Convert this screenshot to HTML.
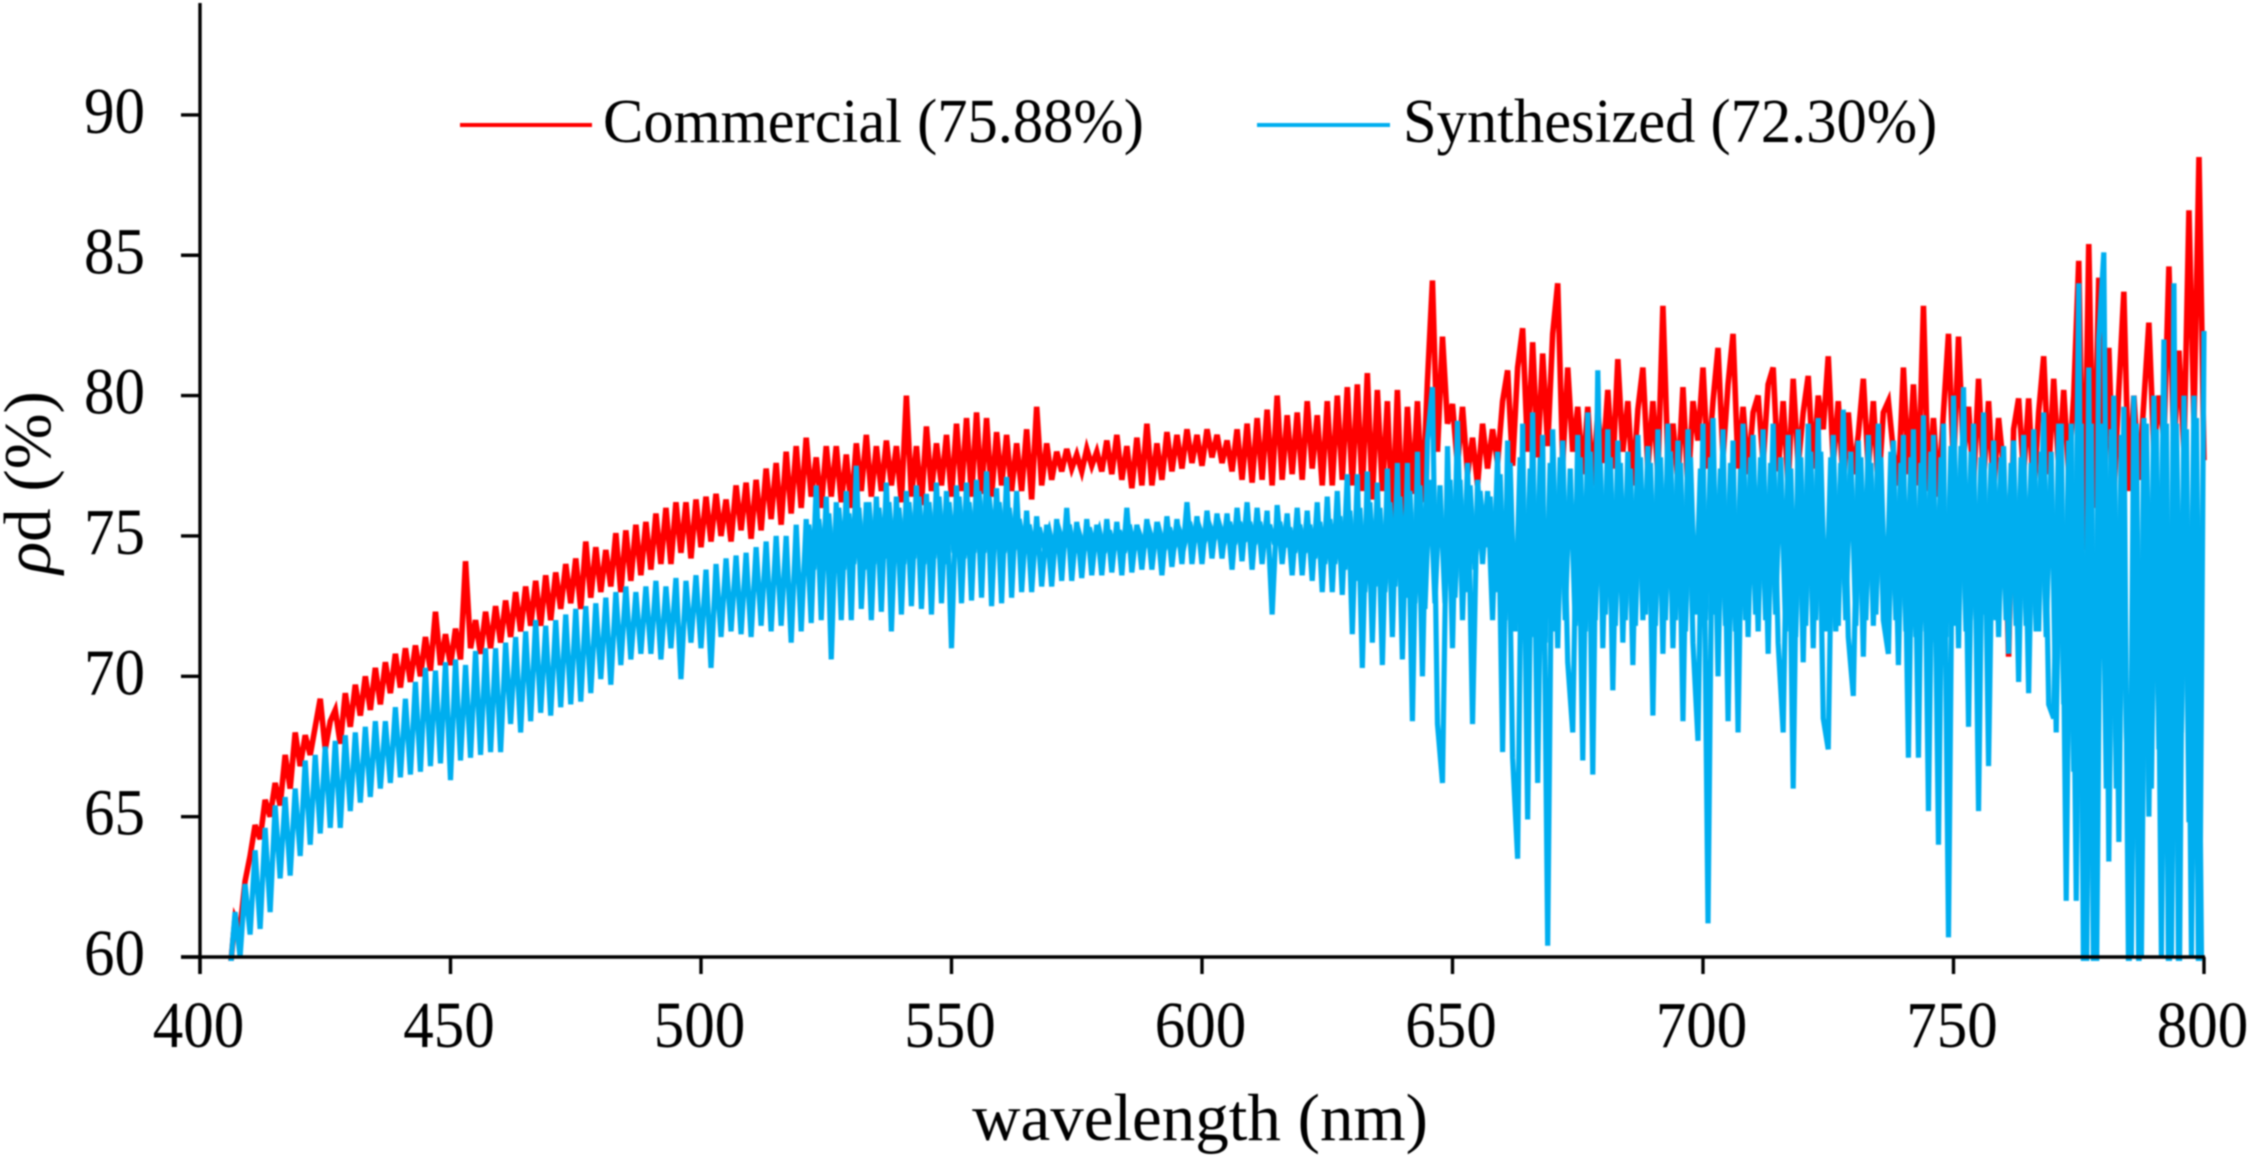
<!DOCTYPE html>
<html lang="en">
<head>
<meta charset="utf-8">
<title>Diffuse reflectance spectrum</title>
<style>
html,body{margin:0;padding:0;background:#fff;width:2250px;height:1157px;overflow:hidden}
svg{display:block;filter:blur(0.8px)}
text{font-family:"Liberation Serif",serif;fill:#000}
</style>
</head>
<body>
<svg id="chart" xmlns="http://www.w3.org/2000/svg" width="2250" height="1157" viewBox="0 0 2250 1157">
  <defs><clipPath id="plot-clip"><rect x="190" y="0" width="2060" height="961"/></clipPath></defs>
  <g id="series" clip-path="url(#plot-clip)"></g>
  <g id="axes"></g>
  <g>
    <line x1="460" y1="125" x2="592" y2="125" stroke="#ff0000" stroke-width="4"/>
    <text transform="translate(603,142) scale(1,1.03)" font-size="60.5">Commercial (75.88%)</text>
    <line x1="1257" y1="125" x2="1390" y2="125" stroke="#00aeef" stroke-width="4"/>
    <text transform="translate(1403,142) scale(1,1.03)" font-size="60.5">Synthesized (72.30%)</text>
  </g>
  <text x="1200" y="1140" font-size="67" text-anchor="middle">wavelength (nm)</text>
  <text transform="translate(50,574) rotate(-90)" font-size="67"><tspan font-style="italic">ρ</tspan>d (%)</text>
</svg>
<script>
const wavelengthStart = 406;
const wavelengthStep = 1;
const halfStepStart = 520.5;
const xTickLabels = [400,450,500,550,600,650,700,750,800];
const yTickLabels = [60,65,70,75,80,85,90];
const commercial = [
59.5,61.4,61,62.7,
63.6,64.7,64.2,65.6,65,66.2,65.4,67.2,66,68,
66.8,67.9,67.2,68.2,69.2,67.4,68.4,68.8,67.6,69.4,
68.2,69.7,68.6,70,68.8,70.3,69,70.5,69.4,70.8,
69.6,71,69.8,71.1,70,71.4,70.2,72.3,70.4,71.5,
70.4,71.7,70.6,74.1,71,72,70.8,72.3,71,72.5,
71.2,72.7,71.4,73,71.6,73.2,71.8,73.4,71.8,73.6,
72,73.7,72.4,74,72.6,74.2,72.4,74.8,72.8,74.6,
73,74.5,73.2,75.1,73,75.2,73.4,75.4,73.6,75.5,
73.8,75.8,74,76,74,76.2,74.4,76.2,74.2,76.3,
74.6,76.4,74.8,76.5,75,76.3,74.8,76.8,75.2,76.9,
74.9,77,75.2,77.4,75.6,77.6,75.4,78,75.8,78.2,
76,78.5,76.4,77.8,76,78.2,76.4,78.2,76.2,77.9,
76,78.3,76.6,78.6,76.4,78.2,76.6,78.4,76.8,78.2,
76.2,80,76.4,78.2,76.1,78.9,76.6,78.3,76.8,78.6,
76.4,79,76.6,79.2,76.4,79.4,76.5,79.2,76.4,78.7,
76.8,78.6,76.6,78.3,76.6,78.8,76.3,79.6,76.8,78.3,
77,78,77.3,78.1,77.4,77.9,77.3,78.1,77.5,78,
77.3,78.4,77.2,78.6,77,78.2,76.7,78.5,76.8,79,
76.8,78.3,77,78.7,77.3,78.6,77.4,78.8,77.6,78.6,
77.5,78.8,77.8,78.6,77.6,78.4,77.3,78.8,77,79,
76.9,79.2,77,79.5,76.8,80,77,79.3,77.2,79.4,
77,79.8,77.4,79.3,76.8,79.8,76.8,80,77,80.3,
76.8,80.4,76.6,80.8,76.3,80.2,76.6,79.8,75.5,80.2,
75.5,79.6,76.5,79.8,76.2,80.5,84.1,78,82.1,79,
79.7,77.5,79.6,77.2,78.5,76.8,79,77.4,78.8,77.6,
79.8,80.9,77.5,81,82.4,78,81.9,77.8,81.5,78.2,
82.2,84,77.6,81,78,79.6,77.2,79.6,76.8,79.4,
77.6,80.2,77.4,81.3,78,79.8,76.8,79.5,81,77.4,
79.8,77.2,83.2,77.6,79,76.9,80.3,76.6,79.8,78.4,
81,77.4,79.8,81.7,77.8,80.4,82.2,77.4,79.6,77.2,
79.4,80,77.6,80.4,81,77.3,79.8,76.8,80.6,77.5,
79.4,80.7,77.4,80,78.8,81.4,77.6,79.8,76.8,79.4,
77.2,78.6,80.6,77.4,79.8,76.6,79.4,79.8,78,76.8,
81,77.2,80.4,76.8,83.2,76.6,79.2,76.4,79.4,82.2,
77.4,82.1,77.8,79.6,76.8,80.6,77,79.8,76.6,79.2,
77.4,70.7,78.8,79.9,77.2,79.9,76.4,79.4,81.4,77.2,
80.6,77.4,80.2,77.2,80,84.8,74.5,85.4,76,84.2,
76,81.7,76.4,80.2,83.7,76.6,80,77,79.8,82.6,
78,80,78.4,84.6,78,81.6,78,86.6,79,88.5,
77.7];
const synthesized = [
59.4,61.6,60,62.6,
60.8,63.8,61,64.6,61.6,65.4,62.8,65.7,62.9,66,
63.6,67,64,67.2,64.4,67.5,64.6,67.7,64.6,67.9,
65.2,68,65.5,68.2,65.7,68.4,66,68.4,66.2,68.9,
66.4,69.2,66.5,69.8,66.6,70.3,66.8,70.2,66.9,70.5,
66.3,70.6,67,70.4,67.1,70.9,67.2,71,67.3,71,
67.3,71.2,68.3,71.4,68,71.6,68.4,72,68.7,71.8,
68.6,72,68.9,72.2,69,72.4,69.1,72.5,69.4,72.6,
69.9,72.8,69.7,73,70.4,73.2,70.6,73,70.8,73.2,
70.8,73.4,70.6,73.2,71,73.5,69.9,73.4,71.2,73.6,
71,73.8,70.3,74,71.4,74.2,71.6,74.3,71.5,74.4,
71.4,74.6,71.8,74.8,71.6,75,71.8,75,71.2,75.4,
71.6,75.6,71.9,76.8,72,76.4,70.6,76.2,72,76.6,
72,77.5,72.4,76.2,72,76.4,72.3,76.9,71.6,76.4,
72.2,76.6,72.5,76.8,72.4,76.5,72.2,76.9,72.6,76.6,
71,76.8,72.6,76.9,72.7,77,72.8,77.3,72.5,76.7,
72.6,77.1,72.8,76.6,73,75.9,73,75.7,73.2,75.4,
73.2,75.6,73.4,76,73.4,75.5,73.5,75.6,73.6,75.4,
73.6,75.6,73.7,75.5,73.6,76,73.7,75.4,73.8,75.6,
73.8,75.5,73.6,75.7,73.9,75.6,74,76.2,74,75.7,
74,75.9,74.2,75.8,74.2,75.8,73.8,76,74.1,76.2,
73.8,76,74,75.9,72.2,76.1,74,75.8,73.6,76,
73.6,75.9,73.4,76.2,73,76.4,73,76.6,72.9,77.2,
71.5,77.2,70.3,77.3,71.2,76.9,70.4,77.4,71.4,77.6,
70.6,77.6,68.4,78,70,78.4,80.3,68.3,66.2,78.2,
71,79.1,72,77.6,68.3,77,74,76.6,72,78,
67.3,78.4,67.1,63.5,79,64.9,79.4,66.2,78.6,60.4,
78.8,71,78.4,70.5,68,78.6,67,79.4,66.5,80.9,
71,78.8,69.5,78.4,71.2,78,70.4,78.6,72,78.2,
68.6,78.8,70.8,79,71,78.4,68.4,78.8,71.2,67.7,
79,61.2,79.2,70,78.8,68.4,78.4,68,79,71.4,
78.6,71.6,78.8,70.8,79,71.2,68,78.6,66,78.8,
70.5,79,71,79.2,68.5,67.4,78.6,71.8,79.5,71.4,
69.3,78.4,70.7,78.6,71.8,79,72,70.8,78.4,70.4,
78.6,67.1,78.8,67.1,79.3,65.2,78.6,64,79,60.7,
80,71,80.3,68.2,79,65.2,79.4,66.8,78.4,71.4,
78.2,70.8,78.4,69.8,78.6,69.4,78.8,71.6,79.4,69,
68.5,79,69,78.4,66.6,84,58,81,58,82,
85.1,63.4,80,64.1,79.6,58,80,59,79.2,65,
80,67.4,82,57,84,57,80,64.8,80,57,
82.3];
const synthesizedHalfStep = [
73.6,75.4,73.8,75.6,74,75.8,73.6,76,73.8,75.8,
74,76,73.8,76.2,74,76,74.2,76.2,74,76,
74,76.2,74.2,76.4,74,76.2,74.2,76.4,74,76.2,
74.4,76.4,74.2,76.2,74.4,76.6,74.4,76.4,74.6,76.2,
74.4,76,74.5,75.6,74.6,75.4,74.4,75.3,74.6,75.2,
74.4,75.2,74.6,75.4,74.4,75.1,74.5,75.3,74.6,75.2,
74.4,75.2,74.5,75.2,74.4,75.4,74.5,75.1,74.6,75.2,
74.6,75.2,74.5,75.3,74.6,75.2,74.7,75.5,74.8,75.3,
74.8,75.4,74.9,75.4,74.8,75.5,74.7,75.5,74.8,75.5,
74.7,75.5,74.6,75.4,74.7,75.5,74.6,75.3,74.4,75.4,
74.4,75.4,74.2,75.5,74,75.6,74,75.7,73.8,75.9,
73.4,76,73,76.2,73.2,76,73,76.2,73.2,76.4,
72.8,76.6,72.6,76.8,72.4,77,72.6,76.8,72.6,77,
72.8,77,73,76.8,73.8,76.6,74.6,76.4,73,77.2,
72,77.6,71.6,77.8,72,77.4,71.4,77.8,71.2,77.6,
71.6,77.8,72,77.4,71.8,77.8,71.6,78,72,77.6,
72.2,77.8,71.8,77.6,72,77.4,71.8,77.8,72.2,77.6,
71.8,77.8,72,78,72,77.6,71.6,77.8,72.2,77.4,
72,77.8,72.2,77.4,71.8,77.6,71.6,77.4,72,77.8,
72.2,77.8,72,77.6,72.2,77.8,71.6,77.4,71.4,77.8,
71.8,78,72,78,71.6,77.8,71.6,77.6,72,78,
71.8,77.8,72,77.6,72.2,77.8,71.8,78,72,77.6,
71.6,77.8,71.4,77.6,71.6,78,71.2,77.8,71.4,78.2,
71.8,78.2,71.6,78,72,77.8,72.2,77.6,72,77.8,
72,77.6,71.8,77.8,71.8,77.6,71.6,78,71.4,78,
68,79,62,79,62,79,58,79,58,79,
66,78.8,66,78.6,68,60,79,60,79,66,
78.8,60,79,60,79,68,78.8,60,79.2,60];

const SVGNS = 'http://www.w3.org/2000/svg';
function xScale(nm){ return 200 + (nm - 400) * 5.01; }
function yScale(v){ return 957 - (v - 60) * 28.07; }

const seriesGroup = document.getElementById('series');
const axesGroup = document.getElementById('axes');

function buildPoints(values,start){
  return values.map(function(v,i){
    return xScale(start + i * wavelengthStep).toFixed(2) + ',' + yScale(v).toFixed(2);
  }).join(' ');
}

const commercialLine = document.createElementNS(SVGNS,'polyline');


commercialLine.setAttribute('points', buildPoints(commercial, wavelengthStart));
commercialLine.setAttribute('fill', 'none');
commercialLine.setAttribute('stroke', '#ff0000');
commercialLine.setAttribute('stroke-width', '5.6');
seriesGroup.appendChild(commercialLine);

const synthesizedLine = document.createElementNS(SVGNS,'polyline');


synthesizedLine.setAttribute('points', buildPoints(synthesized, wavelengthStart));
synthesizedLine.setAttribute('fill', 'none');
synthesizedLine.setAttribute('stroke', '#00aeef');
synthesizedLine.setAttribute('stroke-width', '5.2');
seriesGroup.appendChild(synthesizedLine);

const synthesizedHalfLine = document.createElementNS(SVGNS,'polyline');


synthesizedHalfLine.setAttribute('points', buildPoints(synthesizedHalfStep, halfStepStart));
synthesizedHalfLine.setAttribute('fill', 'none');
synthesizedHalfLine.setAttribute('stroke', '#00aeef');
synthesizedHalfLine.setAttribute('stroke-width', '5.2');
seriesGroup.appendChild(synthesizedHalfLine);

function addLine(parent,x1,y1,x2,y2){
  const l = document.createElementNS(SVGNS,'line');
  l.setAttribute('x1', x1);
  l.setAttribute('y1', y1);
  l.setAttribute('x2', x2);
  l.setAttribute('y2', y2);
  l.setAttribute('stroke', '#000');
  l.setAttribute('stroke-width', '3.4');
  parent.appendChild(l);
  return l;
}

const yAxisLine = addLine(axesGroup, xScale(400), 3, xScale(400), yScale(60) + 17);



const xAxisLine = addLine(axesGroup, xScale(400) - 19, yScale(60), xScale(800) + 1, yScale(60));



yTickLabels.forEach(function(v){
  const t = addLine(axesGroup, xScale(400) - 19, yScale(v), xScale(400), yScale(v));
  
  
  const s = document.createElementNS(SVGNS,'text');
  
  
  s.setAttribute('transform', 'translate(145,' + (yScale(v) + 18) + ') scale(1,1.07)');
  s.setAttribute('font-size', '61');
  s.setAttribute('text-anchor', 'end');
  s.textContent = v;
  axesGroup.appendChild(s);
});

xTickLabels.forEach(function(v){
  const t = addLine(axesGroup, xScale(v), yScale(60), xScale(v), yScale(60) + 17);
  
  
  const s = document.createElementNS(SVGNS,'text');
  
  
  s.setAttribute('transform', 'translate(' + (xScale(v) - 1.5) + ',1047) scale(1,1.07)');
  s.setAttribute('font-size', '61');
  s.setAttribute('text-anchor', 'middle');
  s.textContent = v;
  axesGroup.appendChild(s);
});
</script>
</body>
</html>
